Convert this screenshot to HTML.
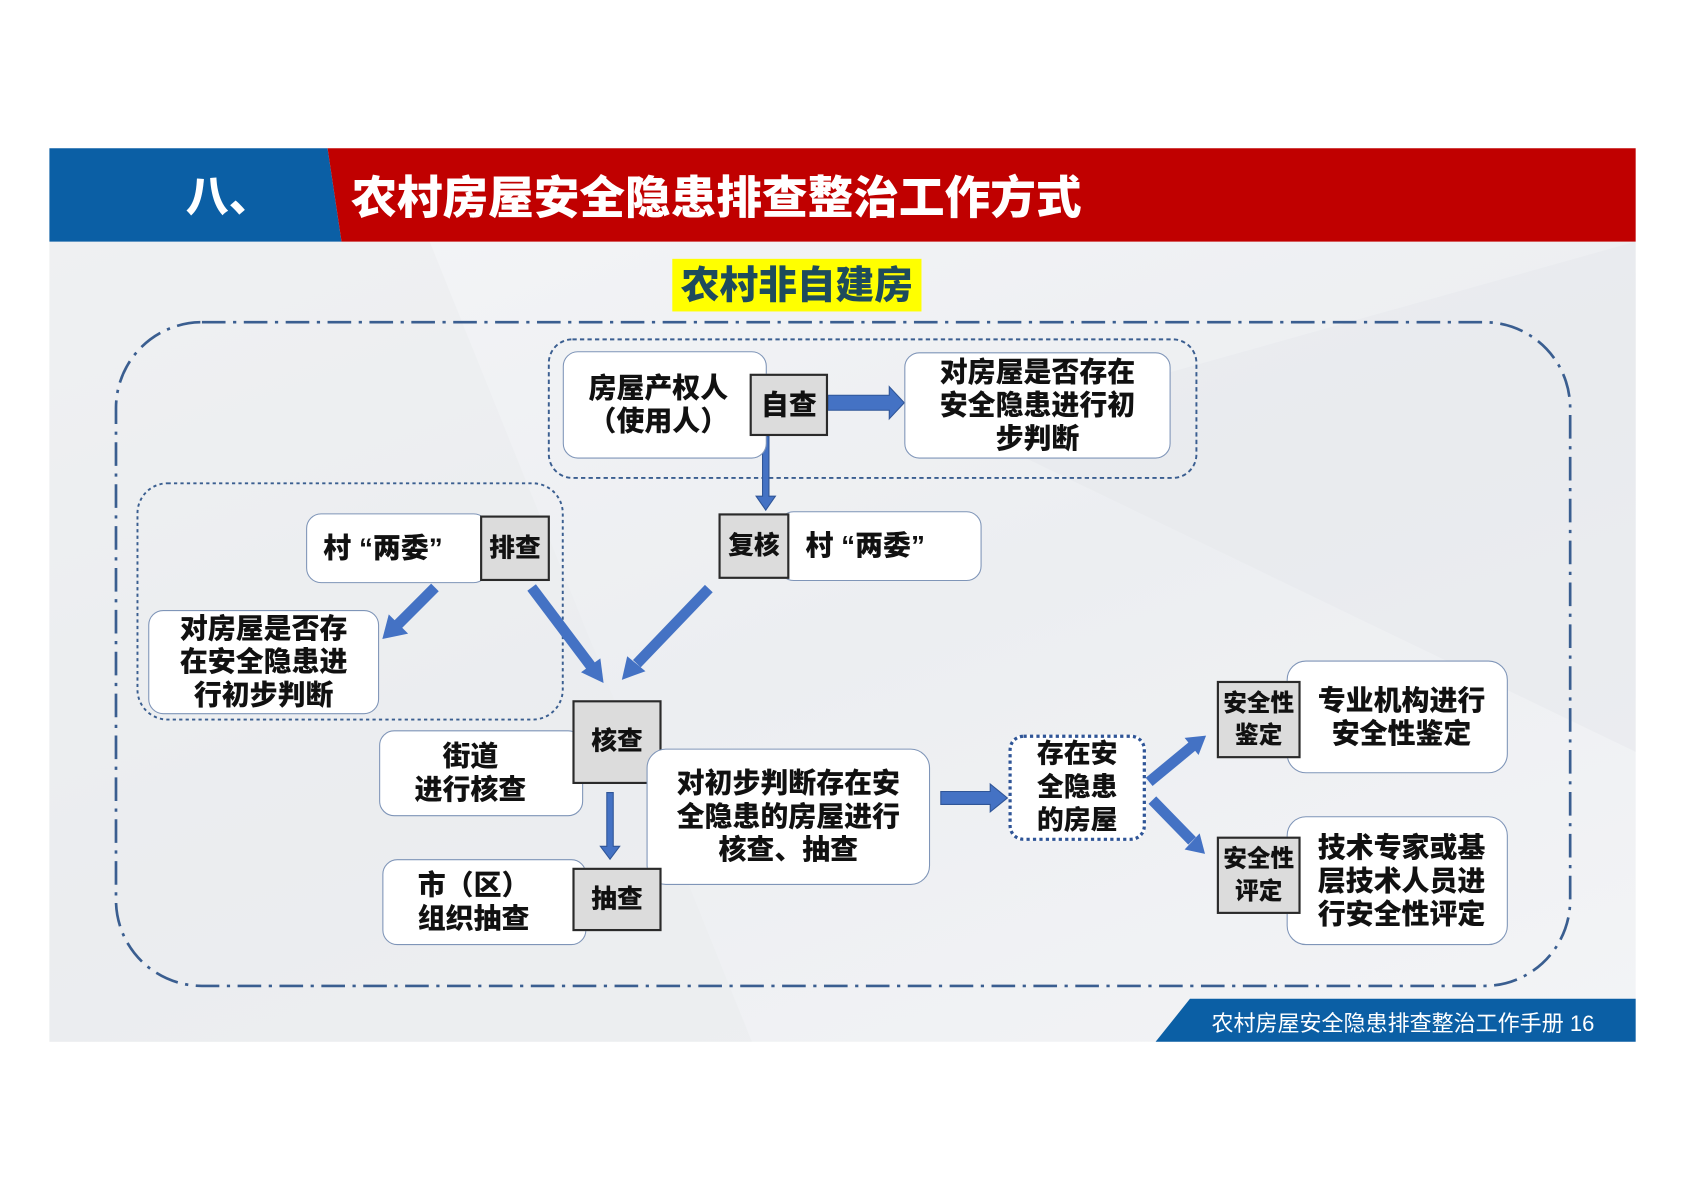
<!DOCTYPE html>
<html><head><meta charset="utf-8"><style>
*{margin:0;padding:0;box-sizing:border-box}
body{width:1684px;height:1192px;background:#fff;overflow:hidden;font-family:"Liberation Sans","Noto Sans CJK SC",sans-serif}
#s{position:absolute;left:0;top:0;width:1568px;height:1110px;transform:scale(1.07398,1.07398);transform-origin:0 0}
.a{position:absolute}
.box{position:absolute;background:#fff;border:1.5px solid #7f95b8;border-radius:14px;display:flex;align-items:center;justify-content:center;text-align:center;font-weight:900;font-size:26px;line-height:31px;color:#111}
.g{position:absolute;background:#dcdcdc;border:2px solid #2a2a2a;display:flex;align-items:center;justify-content:center;text-align:center;font-weight:900;font-size:24px;line-height:30px;color:#111}
</style></head><body><div id="s">
<div class="a" style="left:46px;top:225px;width:1477px;height:745px;background:linear-gradient(160deg,#f4f5f7,#eceef1 50%,#f3f4f6)"></div>
<svg class="a" style="left:0;top:0" width="1568" height="1110">
<polygon points="46,225 400,225 700,970 46,970" fill="#e9ebee" opacity=".5"/>
<polygon points="900,400 1523,225 1523,700" fill="#e6e8ec" opacity=".5"/>
<polygon points="46,138 305,138 318,225 46,225" fill="#0b5fa5"/>
<polygon points="305,138 1523,138 1523,225 318,225" fill="#c00000"/>
<polygon points="1108,930 1523,930 1523,970 1076,970" fill="#0b5fa5"/>
<rect x="108" y="300" width="1354" height="618" rx="80" fill="none" stroke="#3a5e90" stroke-width="2.5" stroke-dasharray="22 7 3 7"/>
<rect x="511" y="316" width="603" height="129" rx="22" fill="none" stroke="#3a5e90" stroke-width="1.8" stroke-dasharray="4 3"/>
<rect x="128" y="450" width="396" height="220" rx="28" fill="none" stroke="#3a5e90" stroke-width="1.8" stroke-dasharray="3 3"/>
<g fill="#4472c4" stroke="#2f5597" stroke-width="1">
<polygon points="771,368 828,368 828,360 842,375 828,390 828,382 771,382"/>
<polygon points="710,406 716,406 716,462 722,462 713,475 704,462 710,462"/>
<polygon points="876,737 922,737 922,730 938,743 922,756 922,749 876,749"/>
<polygon points="565,738 571,738 571,788 577,788 568,800 559,788 565,788"/>
</g>
<g stroke="#4472c4" stroke-width="10" fill="none">
<line x1="405" y1="547" x2="370" y2="582"/>
<line x1="495" y1="547" x2="550" y2="620"/>
<line x1="660" y1="548" x2="593" y2="618"/>
<line x1="1070" y1="728" x2="1110" y2="695"/>
<line x1="1073" y1="745" x2="1110" y2="783"/>
</g>
<g fill="#4472c4">
<polygon points="356,595 362,572 380,590"/>
<polygon points="562,636 541,626 559,613"/>
<polygon points="579,633 584,611 601,625"/>
<polygon points="1123,685 1103,687 1116,703"/>
<polygon points="1122,795 1103,791 1117,776"/>
</g>
</svg>
<div class="a" style="left:173px;top:151px;font-size:40px;font-weight:900;color:#fff">八、</div>
<div class="a" style="left:327px;top:151px;font-size:42.5px;font-weight:900;color:#fff;white-space:nowrap">农村房屋安全隐患排查整治工作方式</div>
<div class="a" style="left:626px;top:241px;width:232px;height:49px;background:#ffff00;color:#1e4b5c;font-size:36px;font-weight:900;text-align:center;line-height:49px">农村非自建房</div>

<div class="box" style="left:524px;top:327px;width:190px;height:100px;padding-right:12px">房屋产权人<br>（使用人）</div>
<div class="g" style="left:698px;top:348px;width:73px;height:58px;font-size:26px">自查</div>
<div class="box" style="left:842px;top:328px;width:248px;height:99px">对房屋是否存在<br>安全隐患进行初<br>步判断</div>

<div class="box" style="left:285px;top:478px;width:170px;height:65px;justify-content:flex-start;padding-left:15px">村 “两委”</div>
<div class="g" style="left:447px;top:480px;width:65px;height:61px">排查</div>
<div class="box" style="left:725px;top:476px;width:189px;height:65px;justify-content:flex-start;padding-left:24px">村 “两委”</div>
<div class="g" style="left:669px;top:478px;width:66px;height:61px">复核</div>

<div class="box" style="left:138px;top:568px;width:215px;height:97px">对房屋是否存<br>在安全隐患进<br>行初步判断</div>

<div class="box" style="left:353px;top:680px;width:190px;height:80px;padding-right:20px">街道<br>进行核查</div>
<div class="g" style="left:533px;top:652px;width:83px;height:78px">核查</div>
<div class="box" style="left:602px;top:697px;width:264px;height:127px;border-radius:18px">对初步判断存在安<br>全隐患的房屋进行<br>核查、抽查</div>
<div class="box" style="left:356px;top:800px;width:190px;height:80px;padding-right:20px">市（区）<br>组织抽查</div>
<div class="g" style="left:533px;top:808px;width:83px;height:59px">抽查</div>

<div class="box" style="left:939px;top:684px;width:128px;height:99px;border:3px dotted #2f5597;border-radius:14px;font-size:25px;line-height:31px">存在安<br>全隐患<br>的房屋</div>

<div class="box" style="left:1198px;top:615px;width:206px;height:105px;border-radius:18px;padding-left:8px">专业机构进行<br>安全性鉴定</div>
<div class="g" style="left:1133px;top:634px;width:78px;height:72px;font-size:22px;line-height:30px">安全性<br>鉴定</div>
<div class="box" style="left:1198px;top:760px;width:206px;height:120px;border-radius:18px;padding-left:8px">技术专家或基<br>层技术人员进<br>行安全性评定</div>
<div class="g" style="left:1133px;top:779px;width:78px;height:72px;font-size:22px;line-height:30px">安全性<br>评定</div>

<div class="a" style="left:1128px;top:936px;font-size:20.5px;color:#fff;white-space:nowrap">农村房屋安全隐患排查整治工作手册 16</div>
</div></body></html>
